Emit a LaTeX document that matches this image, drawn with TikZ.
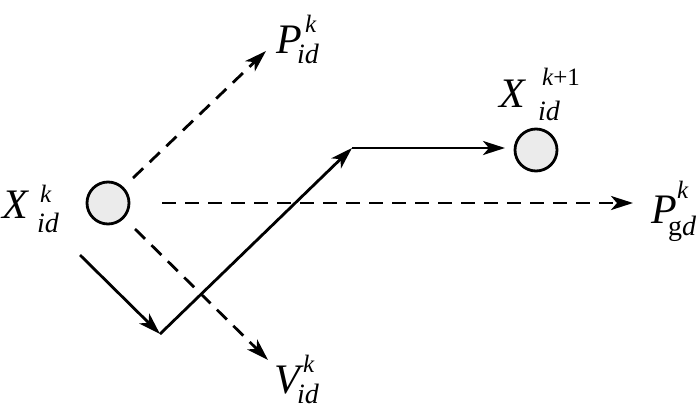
\documentclass[tikz,border=0pt]{standalone}
\usepackage{fontspec}
\setmainfont{Liberation Serif}
\usetikzlibrary{arrows.meta}
\begin{document}
\begin{tikzpicture}[x=1pt,y=-1pt,
  lw/.style={line width=2.8pt},
  tip/.style={-{Stealth[length=22pt,width=14pt,inset=6pt]}},
  dsh/.style={lw,tip,dash pattern=on 14pt off 9pt},
  sol/.style={lw,tip},
  ball/.style={circle,draw,lw,fill=black!8,minimum size=42pt,inner sep=0pt},
  big/.style={anchor=base west,inner sep=0pt,font=\fontsize{42}{42}\selectfont\itshape},
  sup/.style={anchor=base west,inner sep=0pt,font=\fontsize{25}{25}\selectfont\itshape},
  sub/.style={anchor=base west,inner sep=0pt,font=\fontsize{28}{28}\selectfont\itshape}]
\useasboundingbox (0,0) rectangle (700,415);
% circles
\node[ball] (c1) at (108,203) {};
\node[ball] (c2) at (536,150) {};
% labels
\node[big] (xl) at (2,218) {X};
\node[sup] (xlk) at (40,202) {k};
\node[sub] (xlid) at (37,232) {id};
\node[big] (pl) at (276,53) {P};
\node[sup] (plk) at (305,32) {k};
\node[sub] (plid) at (297,63) {id};
\node[big] (xr) at (499,107) {X};
\node[sup] (xrk) at (542,85) {k{\upshape+1}};
\node[sub] (xrid) at (538,120) {id};
\node[big] (pg) at (651,223) {P};
\node[sup] (pgk) at (677,198) {k};
\node[sub] (pggd) at (668,235) {{\upshape g}d};
\node[big] (vl) at (274,393) {V};
\node[sup] (vlk) at (303,372) {k};
\node[sub] (vlid) at (297,403) {id};
% coordinates
\coordinate (a0) at (133,178);
\coordinate (a1) at (266,51);
\coordinate (h0) at (162,203);
\coordinate (h1) at (633,203);
\coordinate (v0) at (135,229);
\coordinate (v1) at (268,360);
\coordinate (s0) at (80,255);
\coordinate (s1) at (160,334);
\coordinate (s2) at (352,148);
\coordinate (s3) at (505,148);
% dashed arrows
\draw[dsh] (a0) -- (a1);
\draw[dsh] (h0) -- (h1);
\draw[dsh] (v0) -- (v1);
% solid path
\draw[sol] (s0) -- (s1);
\draw[sol] (s1) -- (s2);
\draw[sol] (s2) -- (s3);
\end{tikzpicture}
\end{document}
